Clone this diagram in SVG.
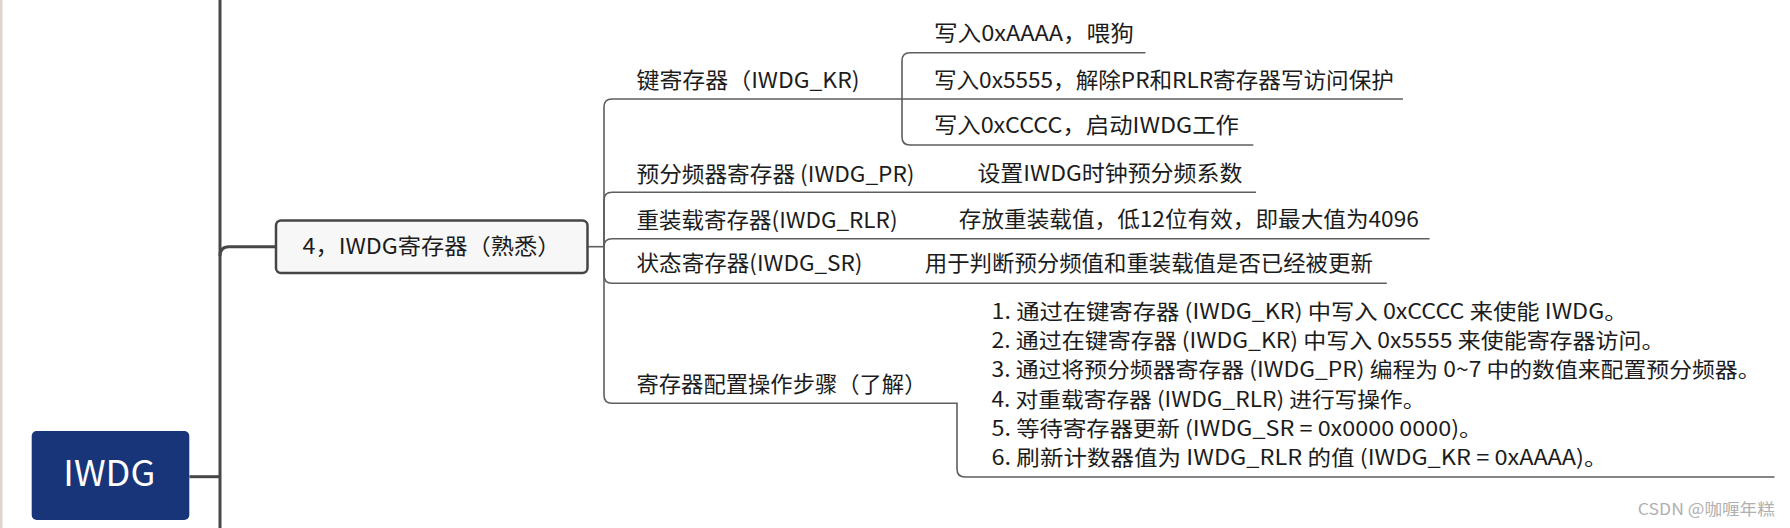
<svg xmlns="http://www.w3.org/2000/svg" width="1790" height="528" viewBox="0 0 1790 528">
<style>
.t{font-family:"Noto Sans CJK SC","Microsoft YaHei",sans-serif;font-size:22px;fill:#1c1c1c}
.m{font-size:21px}
.thick{fill:none;stroke:#474747;stroke-width:3}
.thin{fill:none;stroke:#5e5e5e;stroke-width:1.6}
</style>
<rect x="0" y="0" width="1790" height="528" fill="#ffffff"/>
<rect x="0" y="0" width="2.5" height="528" fill="#ddd6cc"/>
<g id="connectors">
<path class="thick" d="M220,0 V528"/>
<path class="thick" d="M220,256 Q220,246.7 229,246.7 H276"/>
<path class="thick" d="M189.5,476.7 H220"/>
<path class="thin" d="M587.6,246.7 H604"/>
<path class="thin" d="M604,246.7 V107 Q604,99 612,99 H902"/>
<path class="thin" d="M604,246.7 V200.3 Q604,192.3 612,192.3 H1256"/>
<path class="thin" d="M604,246.7 Q604,238.7 612,238.7 H1429.6"/>
<path class="thin" d="M604,246.7 V275.3 Q604,283.3 612,283.3 H1386.8"/>
<path class="thin" d="M604,246.7 V395.3 Q604,403.3 612,403.3 H957 V469 Q957,477 965,477 H1774.5"/>
<path class="thin" d="M902,99 V60.7 Q902,52.7 910,52.7 H1145.4"/>
<path class="thin" d="M902,99 H1403"/>
<path class="thin" d="M902,99 V137 Q902,145 910,145 H1253.3"/>
</g>
<g id="root">
<rect x="31.7" y="431" width="157.6" height="89" rx="5" fill="#18357a"/>
<text class="t" x="63.3" y="486" fill="#ffffff" style="fill:#ffffff;font-size:35px" textLength="92" lengthAdjust="spacingAndGlyphs">IWDG</text>
</g>
<g id="topic">
<rect x="276" y="220.5" width="311.5" height="52.5" rx="5" fill="#f7f7f7" stroke="#454545" stroke-width="2.5"/>
<text class="t" x="302.5" y="254" textLength="258" lengthAdjust="spacingAndGlyphs">4，IWDG寄存器（熟悉）</text>
</g>
<g id="kr">
<text class="t" x="636.5" y="88" textLength="223" lengthAdjust="spacingAndGlyphs">键寄存器（IWDG_KR)</text>
</g>
<g id="kr1"><text class="t" x="933.9" y="41" textLength="200" lengthAdjust="spacingAndGlyphs">写入0xAAAA，喂狗</text></g>
<g id="kr2"><text class="t" x="933.9" y="87.5" textLength="460" lengthAdjust="spacingAndGlyphs">写入0x5555，解除PR和RLR寄存器写访问保护</text></g>
<g id="kr3"><text class="t" x="933.9" y="133" textLength="305" lengthAdjust="spacingAndGlyphs">写入0xCCCC，启动IWDG工作</text></g>
<g id="pr"><text class="t" x="636.5" y="181.5" textLength="278" lengthAdjust="spacingAndGlyphs">预分频器寄存器 (IWDG_PR)</text></g>
<g id="pr1"><text class="t" x="977.4" y="180.5" textLength="265" lengthAdjust="spacingAndGlyphs">设置IWDG时钟预分频系数</text></g>
<g id="rlr"><text class="t" x="636.5" y="227.5" textLength="261" lengthAdjust="spacingAndGlyphs">重装载寄存器(IWDG_RLR)</text></g>
<g id="rlr1"><text class="t" x="958.8" y="226.5" textLength="460" lengthAdjust="spacingAndGlyphs">存放重装载值，低12位有效，即最大值为4096</text></g>
<g id="sr"><text class="t" x="636.5" y="271" textLength="226" lengthAdjust="spacingAndGlyphs">状态寄存器(IWDG_SR)</text></g>
<g id="sr1"><text class="t" x="924.8" y="271" textLength="448" lengthAdjust="spacingAndGlyphs">用于判断预分频值和重装载值是否已经被更新</text></g>
<g id="steps"><text class="t" x="636.5" y="391.5" textLength="290" lengthAdjust="spacingAndGlyphs">寄存器配置操作步骤（了解）</text></g>
<g id="steps1">
<text class="t m" x="991.5" y="319" textLength="636" lengthAdjust="spacingAndGlyphs">1. 通过在键寄存器 (IWDG_KR) 中写入 0xCCCC 来使能 IWDG。</text>
<text class="t m" x="991.5" y="348.2" textLength="673" lengthAdjust="spacingAndGlyphs">2. 通过在键寄存器 (IWDG_KR) 中写入 0x5555 来使能寄存器访问。</text>
<text class="t m" x="991.5" y="377.4" textLength="769" lengthAdjust="spacingAndGlyphs">3. 通过将预分频器寄存器 (IWDG_PR) 编程为 0~7 中的数值来配置预分频器。</text>
<text class="t m" x="991.5" y="406.6" textLength="434" lengthAdjust="spacingAndGlyphs">4. 对重载寄存器 (IWDG_RLR) 进行写操作。</text>
<text class="t m" x="991.5" y="435.8" textLength="491" lengthAdjust="spacingAndGlyphs">5. 等待寄存器更新 (IWDG_SR = 0x0000 0000)。</text>
<text class="t m" x="991.5" y="465" textLength="616" lengthAdjust="spacingAndGlyphs">6. 刷新计数器值为 IWDG_RLR 的值 (IWDG_KR = 0xAAAA)。</text>
</g>
<text x="1637.8" y="515" style="font-family:'Noto Sans CJK SC',sans-serif;font-size:16px;fill:#b0b0b0" textLength="137" lengthAdjust="spacingAndGlyphs">CSDN @咖喱年糕</text>
</svg>
